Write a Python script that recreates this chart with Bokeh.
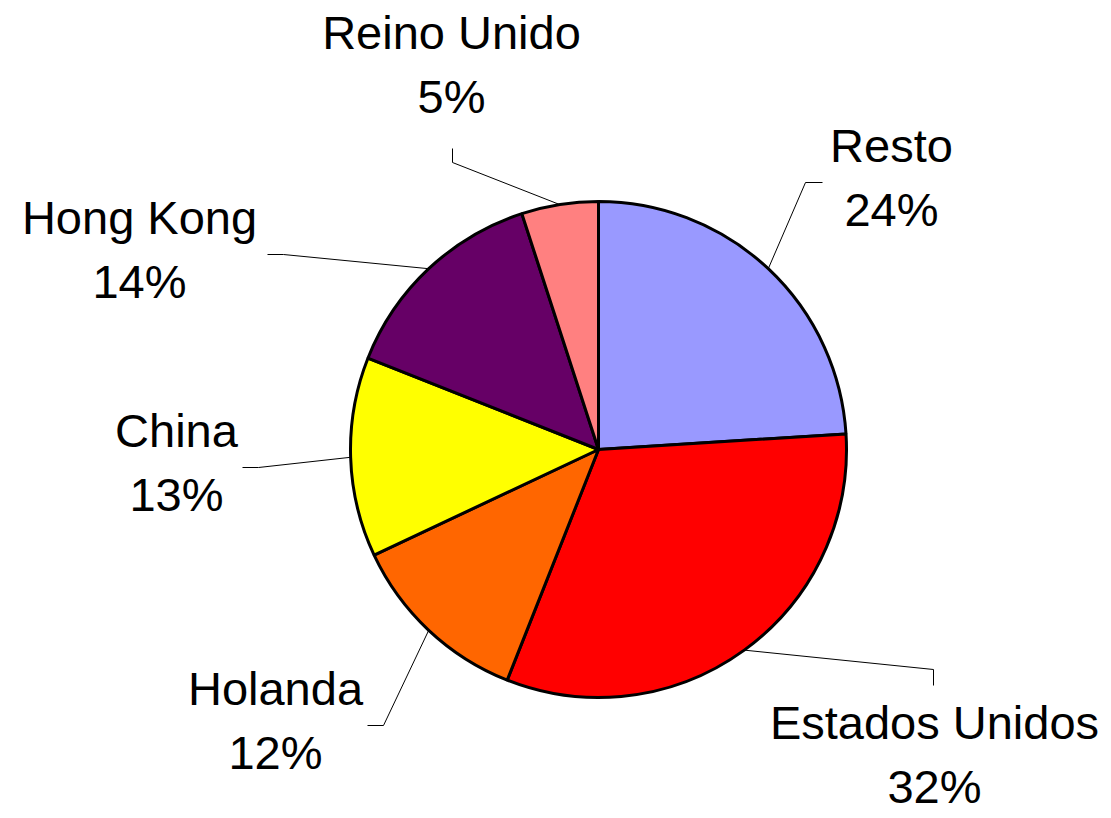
import math
from bokeh.plotting import figure
from bokeh.models import Range1d, ColumnDataSource
from bokeh.core.properties import value
from bokeh.embed import file_html
from bokeh.resources import INLINE

# ---- data ----
countries = ["Resto", "Estados Unidos", "Holanda", "China", "Hong Kong", "Reino Unido"]
shares = [24, 32, 12, 13, 14, 5]
colors = ["#9999FF", "#FF0000", "#FF6600", "#FFFF00", "#660066", "#FF8080"]

# ---- layout (page pixel coordinates; y measured downward from top of page) ----
W, H = 1111, 818
CX, CY, R = 598, 449, 248
# label centre x, baseline of name line, elbow point of leader, leader end (label side)
label_layout = {
    "Resto":          dict(x=891, y=163, elbow=(805, 182), end=(822, 182)),
    "Estados Unidos": dict(x=934, y=740, elbow=(933, 669), end=(933, 685)),
    "Holanda":        dict(x=275, y=706, elbow=(383, 725), end=(367, 725)),
    "China":          dict(x=176, y=448, elbow=(258, 467), end=(242, 467)),
    "Hong Kong":      dict(x=139, y=235, elbow=(283, 254), end=(267, 254)),
    "Reino Unido":    dict(x=451, y=50,  elbow=(452, 162), end=(452, 148)),
}
LINE_GAP = 64
TEXT_SHIFT = 18  # renderer places text lower than the requested baseline

def fy(y):  # page y (downward) -> data y (upward)
    return H - y

p = figure(width=W, height=H, output_backend="svg", toolbar_location=None,
           x_range=Range1d(0, W), y_range=Range1d(0, H),
           x_axis_type=None, y_axis_type=None, min_border=0)
p.outline_line_color = None
p.xgrid.visible = False
p.ygrid.visible = False
p.background_fill_color = "white"

total = sum(shares)
starts, ends, mids = [], [], []
cum = 0.0
for s in shares:
    a0 = cum / total * 360.0
    cum += s
    a1 = cum / total * 360.0
    starts.append(90.0 - a0)
    ends.append(90.0 - a1)
    mids.append((a0 + a1) / 2.0)

src = ColumnDataSource(dict(start=starts, end=ends, color=colors, name=countries))
p.wedge(x=CX, y=fy(CY), radius=R, start_angle="start", end_angle="end",
        start_angle_units="deg", end_angle_units="deg", direction="clock",
        fill_color="color", line_color="black", line_width=3, source=src)

# leader lines
for name, mid in zip(countries, mids):
    lay = label_layout[name]
    ax = CX + R * math.sin(math.radians(mid))
    ay = CY - R * math.cos(math.radians(mid))
    xs = [ax, lay["elbow"][0], lay["end"][0]]
    ys = [fy(ay), fy(lay["elbow"][1]), fy(lay["end"][1])]
    p.line(xs, ys, line_color="black", line_width=1)

# labels
lx, ly1, ly2, names, pcts = [], [], [], [], []
for name, s in zip(countries, shares):
    lay = label_layout[name]
    lx.append(lay["x"])
    ly1.append(fy(lay["y"] - TEXT_SHIFT))
    ly2.append(fy(lay["y"] + LINE_GAP - TEXT_SHIFT))
    names.append(name)
    pcts.append(f"{s}%")

for ys, txt in ((ly1, names), (ly2, pcts)):
    p.text(x=lx, y=ys, text=txt, text_align="center", text_baseline="alphabetic",
           text_font=value("Liberation Sans"), text_font_size="47px",
           text_color="black")

open("out.html", "w").write(file_html(p, INLINE))
